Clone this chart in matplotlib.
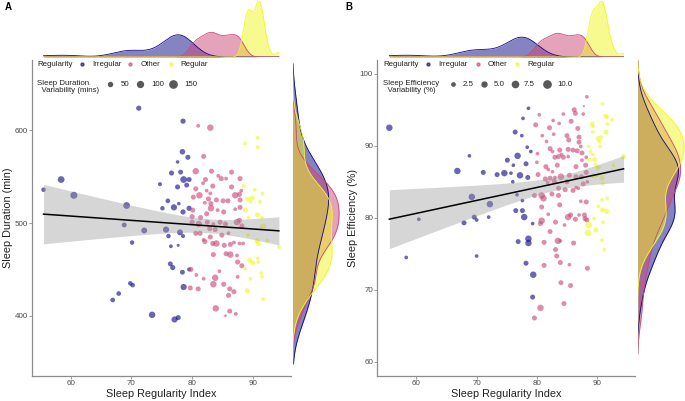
import numpy as np
import matplotlib.pyplot as plt

plt.rcParams['font.family'] = ['Liberation Sans', 'DejaVu Sans']

W, H = 685, 401
colors = ["#0D0887", "#CC4678", "#F0F921"]
group_names = ["Irregular", "Other", "Regular"]

# ---- panel A: sleep duration ----
sri_irr_a = [55.5, 58.4, 60.5, 69.2, 68.8, 70.1, 72.1, 71.2, 78.5, 78.4, 79.3, 77.6, 76.6, 78.1, 78.6,
             79.5, 77.6, 79.1, 74.7, 76.0, 75.1, 77.0, 77.8, 78.5, 79.5, 75.7, 76.1, 78.0, 78.5, 76.5,
             77.7, 76.4, 76.8, 78.4, 79.5, 78.6, 69.8, 70.2, 67.9, 66.9, 73.4, 77.1, 77.7]
dur_irr_a = [536, 547, 530, 519, 498, 479, 492, 624, 610, 577, 571, 566, 554, 555, 547,
             547, 539, 541, 542, 524, 516, 517, 521, 512, 516, 493, 486, 490, 486, 475,
             476, 456, 452, 447, 450, 431, 435, 433, 424, 417, 401, 396, 398]
var_irr_a = [60, 130, 140, 130, 70, 60, 100, 80, 80, 90, 75, 40, 75, 70, 130,
             75, 75, 70, 50, 65, 60, 110, 40, 80, 80, 110, 60, 100, 50, 45,
             30, 70, 80, 70, 50, 110, 60, 60, 65, 65, 120, 110, 75]

sri_oth_a = [81.0, 83.0, 81.9, 80.6, 83.2, 86.5, 84.8, 84.3, 82.2, 81.8, 83.4, 85.6, 87.9, 86.5, 80.6,
             81.2, 82.4, 83.0, 80.2, 82.7, 84.0, 85.1, 85.9, 87.1, 87.8, 88.1, 87.9, 83.1, 82.1, 87.1,
             87.9, 80.1, 83.1, 84.2, 85.2, 82.4, 81.4, 80.0, 80.0, 81.1, 82.5, 83.5, 84.6, 85.5, 87.4,
             87.8, 88.2, 80.6, 81.3, 82.9, 83.8, 84.9, 86.0, 81.9, 82.1, 83.0, 84.0, 83.4, 85.3, 86.3,
             86.9, 87.8, 88.4, 83.5, 85.6, 86.3, 87.4, 87.5, 88.2, 79.8, 80.7, 81.9, 83.8, 83.5, 85.2,
             84.5, 87.5, 79.7, 81.0, 86.2, 86.9, 86.0, 83.9, 86.2, 85.5, 87.2]
dur_oth_a = [605, 603, 572, 556, 556, 555, 548, 551, 547, 543, 540, 548, 548, 539, 537,
             530, 535, 532, 528, 526, 525, 524, 524, 530, 531, 535, 525, 521, 522, 515,
             517, 514, 516, 514, 512, 510, 506, 507, 501, 499, 501, 499, 501, 499, 501,
             503, 497, 489, 489, 494, 493, 487, 489, 482, 480, 485, 478, 478, 476, 477,
             479, 478, 478, 466, 467, 466, 465, 458, 454, 450, 444, 440, 441, 434, 434,
             448, 442, 430, 429, 429, 426, 422, 408, 405, 400, 402]
var_oth_a = [45, 120, 75, 120, 75, 75, 75, 45, 75, 45, 75, 45, 75, 75, 75,
             120, 45, 45, 75, 75, 75, 75, 75, 120, 75, 45, 75, 75, 45, 45,
             75, 75, 120, 45, 75, 75, 75, 75, 75, 120, 75, 45, 75, 75, 120,
             75, 75, 75, 75, 75, 75, 75, 45, 45, 75, 75, 120, 75, 75, 75,
             45, 45, 45, 75, 75, 120, 45, 75, 75, 75, 45, 45, 120, 120, 75,
             45, 45, 75, 75, 75, 75, 75, 120, 75, 25, 45]

sri_reg_a = [88.7, 90.8, 90.8, 88.5, 90.3, 91.6, 89.2, 89.9, 89.6, 91.2, 88.8, 90.8, 89.3, 91.5, 91.7,
             89.2, 92.4, 90.7, 90.9, 94.3, 89.5, 90.0, 90.8, 90.9, 88.7, 91.4, 91.5, 89.6, 89.1, 91.7]
dur_reg_a = [586, 592, 582, 540, 536, 532, 526, 527, 523, 523, 514, 509, 506, 506, 496,
             487, 481, 481, 478, 474, 460, 457, 462, 458, 451, 446, 442, 440, 427, 418]
var_reg_a = [45, 45, 45, 45, 45, 45, 75, 75, 45, 45, 75, 75, 45, 45, 120,
             45, 45, 75, 75, 45, 75, 75, 45, 45, 45, 45, 45, 45, 75, 45]

# ---- panel B: sleep efficiency ----
sri_irr_b = [55.5, 58.3, 60.4, 66.8, 68.8, 71.1, 69.2, 67.9, 69.6, 70.0, 72.0, 72.2, 70.0, 73.4, 74.6,
             75.7, 75.1, 76.1, 76.8, 76.4, 77.7, 78.6, 77.2, 78.5, 76.0, 76.7, 77.6, 77.6, 76.5, 77.9,
             79.3, 76.9, 78.6, 78.6, 78.2, 79.4, 79.3, 78.2, 78.4, 79.0, 77.5]
eff_irr_b = [92.5, 74.5, 79.8, 86.5, 88.6, 86.3, 82.9, 79.3, 80.1, 79.7, 80.1, 81.9, 74.7, 86.0, 86.2,
             86.2, 88.0, 87.3, 88.6, 91.9, 93.8, 95.2, 85.9, 85.6, 85.0, 83.2, 82.4, 81.0, 81.0, 80.1,
             79.2, 76.7, 77.1, 76.5, 73.7, 72.1, 69.0, 87.5, 89.8, 89.2, 91.4]
var_irr_b = [8, 3, 3, 8, 3, 5, 8, 5, 5, 3, 3, 8, 3, 5, 8,
             3, 5, 3, 8, 5, 3, 3, 8, 5, 3, 3, 3, 5, 5, 8,
             3, 5, 8, 8, 5, 8, 5, 5, 3, 3, 3]

sri_oth_b = [80.4, 79.8, 82.7, 84.4, 86.2, 88.3, 87.8, 86.4, 85.7, 86.8, 87.7, 83.7, 82.1, 80.9, 82.8,
             85.0, 85.3, 87.0, 87.0, 87.3, 81.6, 82.2, 82.6, 80.1, 83.8, 84.1, 85.2, 86.0, 86.7, 87.5,
             88.2, 83.0, 83.6, 84.4, 85.2, 80.0, 83.4, 81.5, 86.5, 87.5, 88.1, 80.2, 81.9, 82.6, 81.4,
             82.2, 83.0, 84.0, 85.4, 86.5, 87.4, 88.2, 81.8, 82.9, 85.0, 87.7, 88.4, 83.6, 84.7, 86.0,
             86.5, 86.9, 79.6, 80.8, 81.1, 82.5, 83.6, 87.3, 88.2, 80.8, 83.8, 81.9, 85.6, 85.2, 87.0,
             86.4, 87.9, 88.0, 88.3, 80.8, 80.6, 83.1, 84.6, 82.2, 81.2, 83.5, 83.9, 86.1, 83.1, 83.3,
             83.9, 81.2, 85.4, 88.4, 84.0, 85.6, 80.6, 84.5, 79.6]
eff_oth_b = [94.3, 92.9, 93.5, 94.4, 95.0, 96.8, 95.5, 94.5, 93.4, 92.4, 94.4, 93.1, 92.5, 91.4, 91.6,
             91.4, 90.8, 91.2, 90.5, 89.9, 90.6, 89.6, 89.2, 88.9, 89.4, 88.8, 89.5, 89.4, 89.3, 89.0,
             88.4, 88.4, 88.5, 88.4, 88.5, 87.7, 87.3, 87.1, 87.1, 88.0, 87.3, 86.0, 86.7, 86.4, 85.4,
             85.5, 85.6, 85.7, 85.9, 85.7, 85.7, 86.3, 84.9, 85.1, 85.0, 84.7, 85.0, 84.1, 83.9, 83.8,
             84.2, 84.1, 83.1, 83.1, 82.7, 83.3, 83.1, 82.3, 82.2, 81.5, 81.8, 80.5, 80.4, 80.1, 80.4,
             79.8, 80.4, 79.9, 79.7, 79.6, 79.2, 79.4, 79.0, 78.1, 76.6, 76.8, 76.8, 76.5, 75.6, 74.7,
             73.8, 73.4, 73.5, 73.0, 71.0, 70.6, 67.5, 68.1, 66.1]
var_oth_b = [3, 5, 3, 3, 5, 3, 1.5, 5, 5, 5, 3, 3, 5, 3, 3,
             5, 5, 5, 5, 3, 3, 5, 3, 3, 5, 3, 5, 5, 5, 5,
             3, 5, 5, 5, 3, 3, 5, 5, 5, 3, 5, 5, 3, 3, 5,
             5, 3, 8, 5, 5, 5, 5, 3, 5, 5, 5, 3, 5, 5, 5,
             3, 3, 5, 8, 8, 5, 5, 3, 5, 5, 5, 3, 5, 8, 3,
             5, 5, 5, 5, 8, 5, 5, 3, 5, 5, 8, 3, 5, 5, 5,
             5, 5, 3, 5, 5, 5, 8, 5, 5]

sri_reg_b = [90.9, 91.4, 91.7, 92.5, 89.2, 89.3, 91.7, 91.5, 89.3, 90.2, 90.4, 90.7, 88.6, 90.5, 88.9,
             89.3, 89.6, 88.7, 89.7, 90.2, 94.4, 92.7, 89.4, 90.0, 90.8, 90.9, 90.8, 91.7, 90.2, 90.9,
             91.6, 89.5, 91.0, 88.6, 89.8, 88.5, 90.8, 91.2]
eff_reg_b = [95.8, 94.1, 94.0, 93.6, 93.0, 92.7, 93.0, 91.9, 91.9, 91.0, 90.6, 91.2, 89.9, 89.9, 89.2,
             88.8, 88.1, 88.1, 87.4, 87.0, 88.5, 87.3, 85.8, 85.9, 85.5, 84.7, 82.5, 82.7, 81.6, 81.1,
             80.9, 79.9, 79.4, 79.0, 78.3, 77.9, 76.9, 75.6]
var_reg_b = [3, 5, 3, 3, 5, 3, 3, 5, 3, 5, 3, 3, 3, 3, 3,
             3, 5, 3, 3, 5, 5, 3, 5, 3, 5, 3, 3, 3, 3, 5,
             5, 3, 3, 8, 5, 8, 3, 3]


def box(x0, y0, x1, y1):
    return [x0 / W, 1 - y1 / H, (x1 - x0) / W, (y1 - y0) / H]


def kde(vals, grid):
    v = np.asarray(vals, float)
    n = len(v)
    iqr = np.subtract(*np.percentile(v, [75, 25]))
    bw = 0.9 * min(v.std(ddof=1), iqr / 1.34) * n ** -0.2
    d = np.exp(-0.5 * ((grid[:, None] - v[None, :]) / bw) ** 2).sum(axis=1)
    return d / (n * bw * np.sqrt(2 * np.pi)), bw


def size_a(v):
    return 0.19 * np.asarray(v, float) - 1.0


def size_b(v):
    return 2.93 * np.asarray(v, float) - 1.7


def panel(xs, ys, vs, size_fn, main_px, top_px, right_px, xlim, ylim, yticks, ylabel, ylab_x):
    ax = fig.add_axes(box(*main_px))
    for x, y, v, c in zip(xs, ys, vs, colors):
        ax.scatter(x, y, s=size_fn(v), color=c, alpha=0.62, linewidths=0, zorder=2)

    # linear fit with 95% band
    allx = np.concatenate([np.asarray(a, float) for a in xs])
    ally = np.concatenate([np.asarray(a, float) for a in ys])
    n = len(allx)
    b1, b0 = np.polyfit(allx, ally, 1)
    res = ally - (b0 + b1 * allx)
    s = np.sqrt((res ** 2).sum() / (n - 2))
    g = np.linspace(allx.min(), allx.max(), 100)
    se = s * np.sqrt(1 / n + (g - allx.mean()) ** 2 / ((allx - allx.mean()) ** 2).sum())
    fit = b0 + b1 * g
    ax.fill_between(g, fit - 1.97 * se, fit + 1.97 * se, color="#999999", alpha=0.4, lw=0, zorder=3)
    ax.plot(g, fit, color="black", lw=1.1, zorder=4)

    ax.set_xlim(*xlim)
    ax.set_ylim(*ylim)
    ax.set_xticks([60, 70, 80, 90])
    ax.set_yticks(yticks)
    for sp in ["top", "right"]:
        ax.spines[sp].set_visible(False)
    for sp in ["left", "bottom"]:
        ax.spines[sp].set_color("#8c8c8c")
        ax.spines[sp].set_linewidth(0.9)
    ax.tick_params(length=2.0, width=0.6, color="#8c8c8c", labelsize=5.8,
                   labelcolor="#4d4d4d", pad=1.0)
    ax.set_xlabel("Sleep Regularity Index", fontsize=7.8, color="#222222")
    ax.set_ylabel(ylabel, fontsize=7.8, color="#222222")
    ax.xaxis.set_label_coords(0.5, -0.04)
    ax.yaxis.set_label_coords(ylab_x, 0.5)

    # top marginal density
    axt = fig.add_axes(box(*top_px))
    gx = np.linspace(allx.min(), allx.max(), 300)
    top_max = 0
    for x, c in zip(xs, colors):
        d, _ = kde(x, gx)
        axt.fill_between(gx, 0, d, color=c, alpha=0.5, lw=0)
        axt.plot(gx, d, color=c, lw=0.6)
        top_max = max(top_max, d.max())
    axt.set_xlim(*xlim)
    axt.set_ylim(0, top_max * 1.02)
    axt.axis("off")

    # right marginal density
    axr = fig.add_axes(box(*right_px))
    bws = [kde(y, np.array([0.0]))[1] for y in ys]
    gy = np.linspace(ally.min() - 2 * max(bws), ally.max() + 2 * max(bws), 300)
    r_max = 0
    for y, c in zip(ys, colors):
        d, _ = kde(y, gy)
        axr.fill_betweenx(gy, 0, d, color=c, alpha=0.5, lw=0)
        axr.plot(d, gy, color=c, lw=0.6)
        r_max = max(r_max, d.max())
    axr.set_ylim(*ylim)
    axr.set_xlim(0, r_max * 1.02)
    axr.axis("off")
    return ax


def legend(x0, dot_x, lab_x, size_title, size_vals, size_labels, size_dot_x, size_lab_x, size_fn):
    fig.text(x0 / W, 1 - 64 / H, "Regularity", fontsize=5.7, va="center", color="#222222")
    for dx, lx, c, name in zip(dot_x, lab_x, colors, group_names):
        fig.add_artist(plt.Line2D([dx / W], [1 - 64 / H], marker="o", markersize=2.2,
                                  color=c, alpha=0.62, lw=0, transform=fig.transFigure))
        fig.text(lx / W, 1 - 64 / H, name, fontsize=5.7, va="center", color="#222222")
    fig.text(x0 / W, 1 - 87 / H, size_title, fontsize=5.7, va="center", color="#222222",
             linespacing=1.05)
    for v, lab, dx, lx in zip(size_vals, size_labels, size_dot_x, size_lab_x):
        ms = np.sqrt(size_fn(v))
        fig.add_artist(plt.Line2D([dx / W], [1 - 84 / H], marker="o", markersize=ms,
                                  color="#595959", lw=0, transform=fig.transFigure))
        fig.text(lx / W, 1 - 84 / H, lab, fontsize=5.7, va="center", color="#222222")


fig = plt.figure(figsize=(W / 100, H / 100), dpi=100)

panel([sri_irr_a, sri_oth_a, sri_reg_a], [dur_irr_a, dur_oth_a, dur_reg_a],
      [var_irr_a, var_oth_a, var_reg_a], size_a,
      (32, 60, 291, 376), (32, 0, 291, 57), (292.7, 60, 340, 376),
      (53.6, 96.3), (335, 676), [400, 500, 600], "Sleep Duration (min)", -0.074)
panel([sri_irr_b, sri_oth_b, sri_reg_b], [eff_irr_b, eff_oth_b, eff_reg_b],
      [var_irr_b, var_oth_b, var_reg_b], size_b,
      (377.3, 60, 635.3, 376), (377.3, 0, 635.3, 57), (637.7, 60, 685, 376),
      (53.5, 96.35), (58.05, 101.9), [60, 70, 80, 90, 100], "Sleep Efficiency (%)", -0.076)

legend(37, [82, 130, 171], [92, 141, 180], "Sleep Duration\n  Variability (mins)",
       [50, 100, 150], ["50", "100", "150"], [110, 140, 173], [121, 151, 184], size_a)
legend(383, [428, 478, 517], [438, 488, 527], "Sleep Efficiency\n  Variability (%)",
       [2.5, 5.0, 7.5, 10.0], ["2.5", "5.0", "7.5", "10.0"], [453, 484, 515, 547],
       [463, 494, 524, 557], size_b)

fig.text(5 / W, 1 - 7 / H, "A", fontsize=7, fontweight="bold", va="center")
fig.text(345 / W, 1 - 7 / H, "B", fontsize=7, fontweight="bold", va="center")

fig.savefig("out.png", dpi=100)
